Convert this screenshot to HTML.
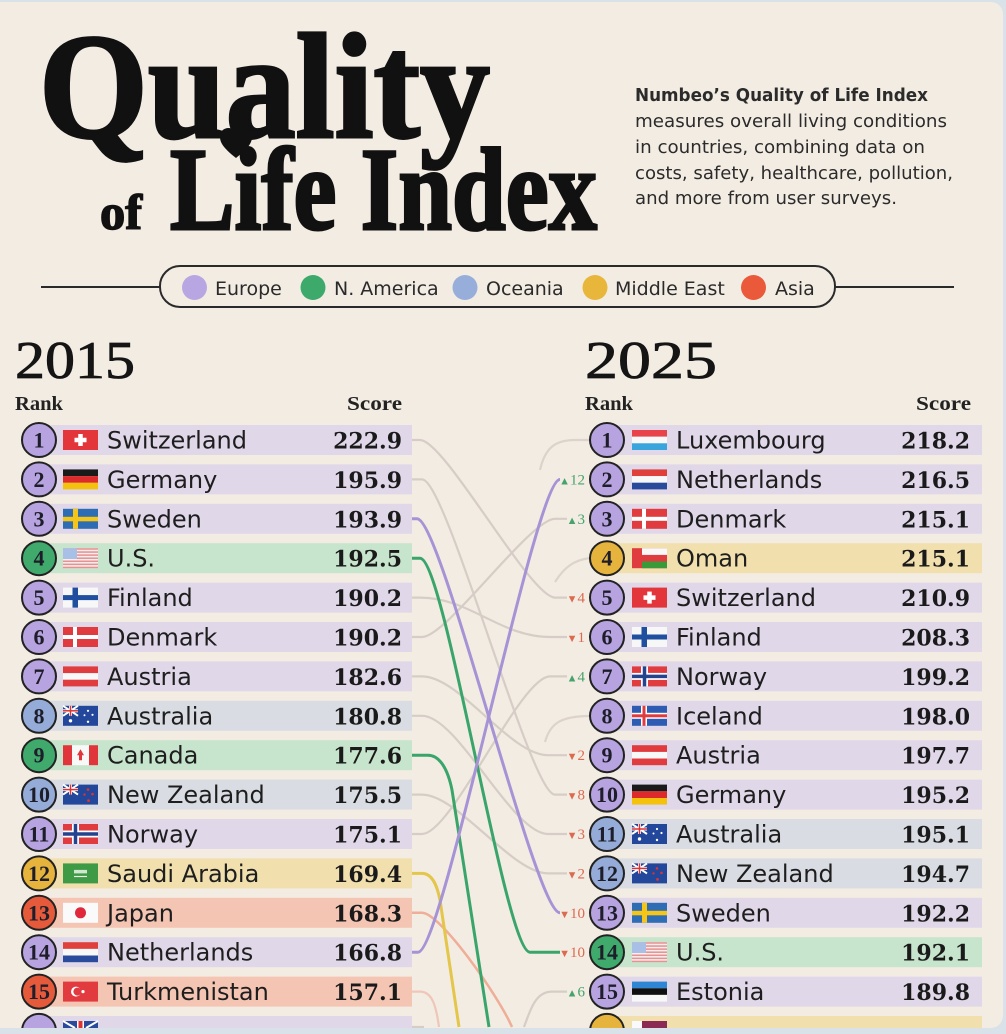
<!DOCTYPE html>
<html><head><meta charset="utf-8">
<style>
html,body{margin:0;padding:0;background:#d9e1e9;width:1006px;height:1034px;overflow:hidden;}
svg{display:block;overflow:hidden;}
.rk{font-family:"Liberation Serif",serif;font-weight:bold;font-size:22px;text-anchor:middle;fill:#1e1e2a;}
.nm{font-family:"DejaVu Sans","Liberation Sans",sans-serif;font-size:24px;fill:#1e1e1e;}
.sc{font-family:"DejaVu Serif","Liberation Serif",serif;font-weight:bold;font-size:22px;text-anchor:end;fill:#1a1a1a;}
.bE{fill:#e0d7e9}.bN{fill:#c7e4cc}.bO{fill:#d9dde3}.bM{fill:#f1dfae}.bA{fill:#f4c5b3}
.cE{fill:#b6a3df}.cN{fill:#3faa6c}.cO{fill:#95acd8}.cM{fill:#e6b43c}.cA{fill:#e65a3c}
.ci{stroke:#222;stroke-width:2}
.g{fill:none;stroke:#d6cec6;stroke-width:2.2}
.lb{font-family:"Liberation Serif","DejaVu Serif",serif;font-size:15px;text-anchor:end;}
.up{fill:#45a36b}.dn{fill:#dc6a4f}
.lg{font-family:"DejaVu Sans","Liberation Sans",sans-serif;font-size:19px;fill:#2a2a2a;}
.ds{font-family:"DejaVu Sans","Liberation Sans",sans-serif;font-size:18px;fill:#2b2b2b;}
</style></head>
<body>
<svg width="1006" height="1034" viewBox="0 0 1006 1034" xmlns="http://www.w3.org/2000/svg">
<defs>
<g id="f-ch"><rect width="35" height="20" fill="#e2363b"/><rect x="15.25" y="4" width="4.5" height="12" fill="#fff"/><rect x="11.5" y="7.75" width="12" height="4.5" fill="#fff"/></g>
<g id="f-de"><rect width="35" height="6.7" fill="#1a1a1a"/><rect y="6.7" width="35" height="6.7" fill="#dd2b2b"/><rect y="13.4" width="35" height="6.6" fill="#f4c20d"/></g>
<g id="f-se"><rect width="35" height="20" fill="#2e6db4"/><rect x="10" width="5" height="20" fill="#f5c518"/><rect y="8" width="35" height="4.5" fill="#f5c518"/></g>
<g id="f-us"><rect width="35" height="20" fill="#f6eeee"/><rect y="0" width="35" height="1.54" fill="#e69292"/><rect y="3.08" width="35" height="1.54" fill="#e69292"/><rect y="6.15" width="35" height="1.54" fill="#e69292"/><rect y="9.23" width="35" height="1.54" fill="#e69292"/><rect y="12.31" width="35" height="1.54" fill="#e69292"/><rect y="15.38" width="35" height="1.54" fill="#e69292"/><rect y="18.46" width="35" height="1.54" fill="#e69292"/><rect width="14" height="10.8" fill="#a8c0e6"/></g>
<g id="f-fi"><rect width="35" height="20" fill="#f7f7f7"/><rect x="9.5" width="5.5" height="20" fill="#1f4f9e"/><rect y="7.5" width="35" height="5" fill="#1f4f9e"/></g>
<g id="f-dk"><rect width="35" height="20" fill="#e03b3f"/><rect x="10" width="4" height="20" fill="#fff"/><rect y="8" width="35" height="4" fill="#fff"/></g>
<g id="f-at"><rect width="35" height="20" fill="#e03b3f"/><rect y="6.7" width="35" height="6.6" fill="#f8f8f8"/></g>
<g id="f-au"><rect width="35" height="20" fill="#23479a"/><path d="M0 0L15 10M15 0L0 10" stroke="#fff" stroke-width="2"/><rect x="6" width="3" height="10" fill="#fff"/><rect y="3.5" width="15" height="3" fill="#fff"/><rect x="6.75" width="1.5" height="10" fill="#d33"/><rect y="4.25" width="15" height="1.5" fill="#d33"/><circle cx="7.5" cy="15" r="1.7" fill="#fff"/><circle cx="25" cy="5" r="1.1" fill="#fff"/><circle cx="29.5" cy="9" r="1.1" fill="#fff"/><circle cx="25" cy="16" r="1.2" fill="#fff"/><circle cx="21.5" cy="9.5" r="1" fill="#fff"/></g>
<g id="f-nz"><rect width="35" height="20" fill="#23479a"/><path d="M0 0L15 10M15 0L0 10" stroke="#fff" stroke-width="2"/><rect x="6" width="3" height="10" fill="#fff"/><rect y="3.5" width="15" height="3" fill="#fff"/><rect x="6.75" width="1.5" height="10" fill="#d33"/><rect y="4.25" width="15" height="1.5" fill="#d33"/><circle cx="25" cy="5" r="1.3" fill="#d33"/><circle cx="29.5" cy="9.5" r="1.3" fill="#d33"/><circle cx="21.5" cy="10" r="1.2" fill="#d33"/><circle cx="25.5" cy="16" r="1.4" fill="#d33"/></g>
<g id="f-ca"><rect width="35" height="20" fill="#f8f8f8"/><rect width="9" height="20" fill="#e0353a"/><rect x="26" width="9" height="20" fill="#e0353a"/><path d="M17.5 4L21 10L19 10L19 15L16 15L16 10L14 10Z" fill="#e0353a"/></g>
<g id="f-no"><rect width="35" height="20" fill="#e03b3f"/><rect x="9" width="7" height="20" fill="#fff"/><rect y="6.5" width="35" height="7" fill="#fff"/><rect x="10.75" width="3.5" height="20" fill="#24438f"/><rect y="8.25" width="35" height="3.5" fill="#24438f"/></g>
<g id="f-sa"><rect width="35" height="20" fill="#3f9a45"/><rect x="11" y="6.5" width="13" height="3.5" fill="#cfe6cf"/><rect x="11" y="12.5" width="13" height="1.2" fill="#e8f3e8"/></g>
<g id="f-jp"><rect width="35" height="20" fill="#fafafa"/><circle cx="17.5" cy="10" r="5.5" fill="#e0283c"/></g>
<g id="f-nl"><rect width="35" height="6.7" fill="#e0403c"/><rect y="6.7" width="35" height="6.6" fill="#f8f8f8"/><rect y="13.3" width="35" height="6.7" fill="#2a4b9c"/></g>
<g id="f-tm"><rect width="35" height="20" fill="#e23b3f"/><circle cx="13" cy="10" r="5" fill="#fff"/><circle cx="14.4" cy="10" r="4" fill="#e23b3f"/><circle cx="20" cy="10" r="1.6" fill="#fff"/></g>
<g id="f-lu"><rect width="35" height="6.7" fill="#e8434a"/><rect y="6.7" width="35" height="6.6" fill="#f8f8f8"/><rect y="13.3" width="35" height="6.7" fill="#3aa5dd"/></g>
<g id="f-om"><rect width="35" height="20" fill="#e03b3f"/><rect x="10" width="25" height="6.7" fill="#f8f8f8"/><rect x="10" y="13.3" width="25" height="6.7" fill="#3a9a3a"/></g>
<g id="f-is"><rect width="35" height="20" fill="#2d5cb2"/><rect x="9" width="6" height="20" fill="#fff"/><rect y="7" width="35" height="6" fill="#fff"/><rect x="10.5" width="3" height="20" fill="#e03b3f"/><rect y="8.5" width="35" height="3" fill="#e03b3f"/></g>
<g id="f-ee"><rect width="35" height="6.7" fill="#2f86d4"/><rect y="6.7" width="35" height="6.6" fill="#111"/><rect y="13.3" width="35" height="6.7" fill="#f8f8f8"/></g>
</defs>

<rect width="1006" height="1034" fill="#d9e1e9"/>
<path d="M0 2 H991 A12 12 0 0 1 1003 14 V1016 A12 12 0 0 1 991 1028 H0 Z" fill="#f3ece3"/>

<!-- Title -->
<text x="39" y="137" font-family="Liberation Serif, serif" font-weight="bold" font-size="150" textLength="451" lengthAdjust="spacingAndGlyphs" fill="#111" stroke="#111" stroke-width="3">Quality</text>
<text x="100" y="229" font-family="Liberation Serif, serif" font-weight="bold" font-size="50" textLength="42" lengthAdjust="spacingAndGlyphs" fill="#111" stroke="#111" stroke-width="1.5">of</text>
<text x="170" y="229" font-family="Liberation Serif, serif" font-weight="bold" font-size="118" textLength="427" lengthAdjust="spacingAndGlyphs" fill="#111" stroke="#111" stroke-width="3">Life Index</text>
<path d="M236 158 C226 150 220 144 220 137 C220 131 224 128 228.5 128 C232 128 234.5 130 236 133 C237.5 130 240 128 243.5 128 C248 128 252 131 252 137 C252 144 246 150 236 158 Z" fill="#111"/>

<!-- Description -->
<text x="635" y="101" class="ds" font-weight="bold" fill="#151515" textLength="293" lengthAdjust="spacingAndGlyphs">Numbeo’s Quality of Life Index</text>
<text x="635" y="127" class="ds" textLength="312" lengthAdjust="spacingAndGlyphs">measures overall living conditions</text>
<text x="635" y="153" class="ds" textLength="290" lengthAdjust="spacingAndGlyphs">in countries, combining data on</text>
<text x="635" y="179" class="ds" textLength="318" lengthAdjust="spacingAndGlyphs">costs, safety, healthcare, pollution,</text>
<text x="635" y="204" class="ds" textLength="262" lengthAdjust="spacingAndGlyphs">and more from user surveys.</text>

<!-- Legend -->
<line x1="41" y1="287" x2="160" y2="287" stroke="#2a2a2a" stroke-width="2"/>
<line x1="835" y1="287" x2="954" y2="287" stroke="#2a2a2a" stroke-width="2"/>
<rect x="160" y="266" width="675" height="41" rx="20" fill="none" stroke="#2a2a2a" stroke-width="2"/>
<circle cx="194.5" cy="287.5" r="12.5" fill="#b8a6e2"/>
<text x="215" y="295" class="lg">Europe</text>
<circle cx="313" cy="287.5" r="12.5" fill="#3daa6c"/>
<text x="334" y="295" class="lg">N. America</text>
<circle cx="465" cy="287.5" r="12.5" fill="#97aedb"/>
<text x="486" y="295" class="lg">Oceania</text>
<circle cx="595" cy="287.5" r="12.5" fill="#e8b63a"/>
<text x="615" y="295" class="lg">Middle East</text>
<circle cx="753.5" cy="287.5" r="12.5" fill="#ea5a3a"/>
<text x="775" y="295" class="lg">Asia</text>

<!-- Headings -->
<text x="15" y="378" font-family="Liberation Serif, serif" font-size="53" textLength="120" lengthAdjust="spacingAndGlyphs" fill="#151515" stroke="#151515" stroke-width="0.8">2015</text>
<text x="585" y="378" font-family="Liberation Serif, serif" font-size="53" textLength="132" lengthAdjust="spacingAndGlyphs" fill="#151515" stroke="#151515" stroke-width="0.8">2025</text>
<text x="15" y="410" font-family="Liberation Serif, serif" font-weight="bold" font-size="19.5" textLength="48" lengthAdjust="spacingAndGlyphs" fill="#222">Rank</text>
<text x="347" y="410" font-family="Liberation Serif, serif" font-weight="bold" font-size="19.5" textLength="55" lengthAdjust="spacingAndGlyphs" fill="#222">Score</text>
<text x="585" y="410" font-family="Liberation Serif, serif" font-weight="bold" font-size="19.5" textLength="48" lengthAdjust="spacingAndGlyphs" fill="#222">Rank</text>
<text x="916" y="410" font-family="Liberation Serif, serif" font-weight="bold" font-size="19.5" textLength="55" lengthAdjust="spacingAndGlyphs" fill="#222">Score</text>

<!-- Connecting lines: gray -->
<path class="g" d="M412 440 H420 C445 440 530 597.6 555 597.6 H567"/>
<path class="g" d="M412 479.4 H422 C447 479.4 530 794.6 555 794.6 H567"/>
<path class="g" d="M412 597.6 H420 C470 597.6 500 637 550 637 H567"/>
<path class="g" d="M412 637 H422 C447 637 530 518.8 555 518.8 H567"/>
<path class="g" d="M412 676.4 H422 C460 676.4 510 755.2 548 755.2 H567"/>
<path class="g" d="M412 715.8 H422 C458 715.8 512 834 548 834 H567"/>
<path class="g" d="M412 794.6 H422 C458 794.6 512 873.4 548 873.4 H567"/>
<path class="g" d="M412 834 H422 C452 834 520 676.4 550 676.4 H567"/>
<path class="g" d="M524 1027 C532 1005 537 991.6 552 991.6 H567"/>
<path class="g" d="M412 1027 H424"/>
<path class="g" d="M540 470 C545 448 555 440 575 440 H590" opacity="0.8"/>
<path class="g" d="M555 582 C565 566 575 560 590 558" opacity="0.8"/>
<path class="g" d="M545 742 C550 724 560 716 590 716" opacity="0.8"/>
<path fill="none" stroke="#efc6b7" stroke-width="2.2" d="M412 991.6 H420 C432 991.6 436 1005 439 1027"/>
<!-- colored lines -->
<path fill="none" stroke="#eeae97" stroke-width="2.5" d="M412 912.8 H422 C440 912.8 498 995 512 1027"/>
<path fill="none" stroke="#e3c64a" stroke-width="3" d="M412 873.4 H422 C432 873.4 437 885 440 900 L459 1027"/>
<path fill="none" stroke="#3aa56a" stroke-width="3" d="M412 755.2 H428 C440 755.2 448 770 452 790 L489 1027"/>
<path fill="none" stroke="#3aa56a" stroke-width="3" d="M412 558.2 H420 C445 558.2 505 952.2 530 952.2 H560"/>
<path fill="none" stroke="#a693d6" stroke-width="3" d="M412 518.8 H417 C442 518.8 535 912.8 560 912.8"/>
<path fill="none" stroke="#a693d6" stroke-width="3" d="M412 952.2 H418 C443 952.2 535 479.4 560 479.4"/>

<!-- Change labels -->
<text x="585" y="484.5" class="lb up"><tspan font-size="11">▲</tspan>12</text>
<text x="585" y="523.8" class="lb up"><tspan font-size="11">▲</tspan>3</text>
<text x="585" y="602.6" class="lb dn"><tspan font-size="11">▼</tspan>4</text>
<text x="585" y="642" class="lb dn"><tspan font-size="11">▼</tspan>1</text>
<text x="585" y="681.4" class="lb up"><tspan font-size="11">▲</tspan>4</text>
<text x="585" y="760.2" class="lb dn"><tspan font-size="11">▼</tspan>2</text>
<text x="585" y="799.6" class="lb dn"><tspan font-size="11">▼</tspan>8</text>
<text x="585" y="839" class="lb dn"><tspan font-size="11">▼</tspan>3</text>
<text x="585" y="878.4" class="lb dn"><tspan font-size="11">▼</tspan>2</text>
<text x="585" y="917.8" class="lb dn"><tspan font-size="11">▼</tspan>10</text>
<text x="585" y="957.2" class="lb dn"><tspan font-size="11">▼</tspan>10</text>
<text x="585" y="996.6" class="lb up"><tspan font-size="11">▲</tspan>6</text>

<!-- LEFT rows (2015) -->
<g transform="translate(0,440)"><rect x="39" y="-15" width="373" height="30" class="bE"/><circle cx="39" r="17" class="cE ci"/><text x="39" y="7.5" class="rk">1</text><use href="#f-ch" x="63" y="-10"/><text x="107" y="8.5" class="nm">Switzerland</text><text x="402" y="8.5" class="sc">222.9</text></g>
<g transform="translate(0,479.4)"><rect x="39" y="-15" width="373" height="30" class="bE"/><circle cx="39" r="17" class="cE ci"/><text x="39" y="7.5" class="rk">2</text><use href="#f-de" x="63" y="-10"/><text x="107" y="8.5" class="nm">Germany</text><text x="402" y="8.5" class="sc">195.9</text></g>
<g transform="translate(0,518.8)"><rect x="39" y="-15" width="373" height="30" class="bE"/><circle cx="39" r="17" class="cE ci"/><text x="39" y="7.5" class="rk">3</text><use href="#f-se" x="63" y="-10"/><text x="107" y="8.5" class="nm">Sweden</text><text x="402" y="8.5" class="sc">193.9</text></g>
<g transform="translate(0,558.2)"><rect x="39" y="-15" width="373" height="30" class="bN"/><circle cx="39" r="17" class="cN ci"/><text x="39" y="7.5" class="rk">4</text><use href="#f-us" x="63" y="-10"/><text x="107" y="8.5" class="nm">U.S.</text><text x="402" y="8.5" class="sc">192.5</text></g>
<g transform="translate(0,597.6)"><rect x="39" y="-15" width="373" height="30" class="bE"/><circle cx="39" r="17" class="cE ci"/><text x="39" y="7.5" class="rk">5</text><use href="#f-fi" x="63" y="-10"/><text x="107" y="8.5" class="nm">Finland</text><text x="402" y="8.5" class="sc">190.2</text></g>
<g transform="translate(0,637)"><rect x="39" y="-15" width="373" height="30" class="bE"/><circle cx="39" r="17" class="cE ci"/><text x="39" y="7.5" class="rk">6</text><use href="#f-dk" x="63" y="-10"/><text x="107" y="8.5" class="nm">Denmark</text><text x="402" y="8.5" class="sc">190.2</text></g>
<g transform="translate(0,676.4)"><rect x="39" y="-15" width="373" height="30" class="bE"/><circle cx="39" r="17" class="cE ci"/><text x="39" y="7.5" class="rk">7</text><use href="#f-at" x="63" y="-10"/><text x="107" y="8.5" class="nm">Austria</text><text x="402" y="8.5" class="sc">182.6</text></g>
<g transform="translate(0,715.8)"><rect x="39" y="-15" width="373" height="30" class="bO"/><circle cx="39" r="17" class="cO ci"/><text x="39" y="7.5" class="rk">8</text><use href="#f-au" x="63" y="-10"/><text x="107" y="8.5" class="nm">Australia</text><text x="402" y="8.5" class="sc">180.8</text></g>
<g transform="translate(0,755.2)"><rect x="39" y="-15" width="373" height="30" class="bN"/><circle cx="39" r="17" class="cN ci"/><text x="39" y="7.5" class="rk">9</text><use href="#f-ca" x="63" y="-10"/><text x="107" y="8.5" class="nm">Canada</text><text x="402" y="8.5" class="sc">177.6</text></g>
<g transform="translate(0,794.6)"><rect x="39" y="-15" width="373" height="30" class="bO"/><circle cx="39" r="17" class="cO ci"/><text x="39" y="7.5" class="rk">10</text><use href="#f-nz" x="63" y="-10"/><text x="107" y="8.5" class="nm">New Zealand</text><text x="402" y="8.5" class="sc">175.5</text></g>
<g transform="translate(0,834)"><rect x="39" y="-15" width="373" height="30" class="bE"/><circle cx="39" r="17" class="cE ci"/><text x="39" y="7.5" class="rk">11</text><use href="#f-no" x="63" y="-10"/><text x="107" y="8.5" class="nm">Norway</text><text x="402" y="8.5" class="sc">175.1</text></g>
<g transform="translate(0,873.4)"><rect x="39" y="-15" width="373" height="30" class="bM"/><circle cx="39" r="17" class="cM ci"/><text x="39" y="7.5" class="rk">12</text><use href="#f-sa" x="63" y="-10"/><text x="107" y="8.5" class="nm">Saudi Arabia</text><text x="402" y="8.5" class="sc">169.4</text></g>
<g transform="translate(0,912.8)"><rect x="39" y="-15" width="373" height="30" class="bA"/><circle cx="39" r="17" class="cA ci"/><text x="39" y="7.5" class="rk">13</text><use href="#f-jp" x="63" y="-10"/><text x="107" y="8.5" class="nm">Japan</text><text x="402" y="8.5" class="sc">168.3</text></g>
<g transform="translate(0,952.2)"><rect x="39" y="-15" width="373" height="30" class="bE"/><circle cx="39" r="17" class="cE ci"/><text x="39" y="7.5" class="rk">14</text><use href="#f-nl" x="63" y="-10"/><text x="107" y="8.5" class="nm">Netherlands</text><text x="402" y="8.5" class="sc">166.8</text></g>
<g transform="translate(0,991.6)"><rect x="39" y="-15" width="373" height="30" class="bA"/><circle cx="39" r="17" class="cA ci"/><text x="39" y="7.5" class="rk">15</text><use href="#f-tm" x="63" y="-10"/><text x="107" y="8.5" class="nm">Turkmenistan</text><text x="402" y="8.5" class="sc">157.1</text></g>
<!-- row 16 left (partially visible) -->
<rect x="39" y="1016" width="373" height="12" class="bE"/>
<path d="M22.1 1029 A17 17 0 0 1 55.9 1029 Z" class="cE ci"/>
<rect x="63" y="1021" width="35" height="7" fill="#2a4b9c"/>
<rect x="77" y="1021" width="7" height="7" fill="#fff"/>
<rect x="78.5" y="1021" width="4" height="7" fill="#d33"/>
<path d="M63 1021 L75 1028 M98 1021 L86 1028" stroke="#fff" stroke-width="2"/>

<!-- RIGHT rows (2025) -->
<g transform="translate(568,440)"><rect x="39" y="-15" width="375" height="30" class="bE"/><circle cx="39" r="17" class="cE ci"/><text x="39" y="7.5" class="rk">1</text><use href="#f-lu" x="64" y="-10"/><text x="108" y="8.5" class="nm">Luxembourg</text><text x="402" y="8.5" class="sc">218.2</text></g>
<g transform="translate(568,479.4)"><rect x="39" y="-15" width="375" height="30" class="bE"/><circle cx="39" r="17" class="cE ci"/><text x="39" y="7.5" class="rk">2</text><use href="#f-nl" x="64" y="-10"/><text x="108" y="8.5" class="nm">Netherlands</text><text x="402" y="8.5" class="sc">216.5</text></g>
<g transform="translate(568,518.8)"><rect x="39" y="-15" width="375" height="30" class="bE"/><circle cx="39" r="17" class="cE ci"/><text x="39" y="7.5" class="rk">3</text><use href="#f-dk" x="64" y="-10"/><text x="108" y="8.5" class="nm">Denmark</text><text x="402" y="8.5" class="sc">215.1</text></g>
<g transform="translate(568,558.2)"><rect x="39" y="-15" width="375" height="30" class="bM"/><circle cx="39" r="17" class="cM ci"/><text x="39" y="7.5" class="rk">4</text><use href="#f-om" x="64" y="-10"/><text x="108" y="8.5" class="nm">Oman</text><text x="402" y="8.5" class="sc">215.1</text></g>
<g transform="translate(568,597.6)"><rect x="39" y="-15" width="375" height="30" class="bE"/><circle cx="39" r="17" class="cE ci"/><text x="39" y="7.5" class="rk">5</text><use href="#f-ch" x="64" y="-10"/><text x="108" y="8.5" class="nm">Switzerland</text><text x="402" y="8.5" class="sc">210.9</text></g>
<g transform="translate(568,637)"><rect x="39" y="-15" width="375" height="30" class="bE"/><circle cx="39" r="17" class="cE ci"/><text x="39" y="7.5" class="rk">6</text><use href="#f-fi" x="64" y="-10"/><text x="108" y="8.5" class="nm">Finland</text><text x="402" y="8.5" class="sc">208.3</text></g>
<g transform="translate(568,676.4)"><rect x="39" y="-15" width="375" height="30" class="bE"/><circle cx="39" r="17" class="cE ci"/><text x="39" y="7.5" class="rk">7</text><use href="#f-no" x="64" y="-10"/><text x="108" y="8.5" class="nm">Norway</text><text x="402" y="8.5" class="sc">199.2</text></g>
<g transform="translate(568,715.8)"><rect x="39" y="-15" width="375" height="30" class="bE"/><circle cx="39" r="17" class="cE ci"/><text x="39" y="7.5" class="rk">8</text><use href="#f-is" x="64" y="-10"/><text x="108" y="8.5" class="nm">Iceland</text><text x="402" y="8.5" class="sc">198.0</text></g>
<g transform="translate(568,755.2)"><rect x="39" y="-15" width="375" height="30" class="bE"/><circle cx="39" r="17" class="cE ci"/><text x="39" y="7.5" class="rk">9</text><use href="#f-at" x="64" y="-10"/><text x="108" y="8.5" class="nm">Austria</text><text x="402" y="8.5" class="sc">197.7</text></g>
<g transform="translate(568,794.6)"><rect x="39" y="-15" width="375" height="30" class="bE"/><circle cx="39" r="17" class="cE ci"/><text x="39" y="7.5" class="rk">10</text><use href="#f-de" x="64" y="-10"/><text x="108" y="8.5" class="nm">Germany</text><text x="402" y="8.5" class="sc">195.2</text></g>
<g transform="translate(568,834)"><rect x="39" y="-15" width="375" height="30" class="bO"/><circle cx="39" r="17" class="cO ci"/><text x="39" y="7.5" class="rk">11</text><use href="#f-au" x="64" y="-10"/><text x="108" y="8.5" class="nm">Australia</text><text x="402" y="8.5" class="sc">195.1</text></g>
<g transform="translate(568,873.4)"><rect x="39" y="-15" width="375" height="30" class="bO"/><circle cx="39" r="17" class="cO ci"/><text x="39" y="7.5" class="rk">12</text><use href="#f-nz" x="64" y="-10"/><text x="108" y="8.5" class="nm">New Zealand</text><text x="402" y="8.5" class="sc">194.7</text></g>
<g transform="translate(568,912.8)"><rect x="39" y="-15" width="375" height="30" class="bE"/><circle cx="39" r="17" class="cE ci"/><text x="39" y="7.5" class="rk">13</text><use href="#f-se" x="64" y="-10"/><text x="108" y="8.5" class="nm">Sweden</text><text x="402" y="8.5" class="sc">192.2</text></g>
<g transform="translate(568,952.2)"><rect x="39" y="-15" width="375" height="30" class="bN"/><circle cx="39" r="17" class="cN ci"/><text x="39" y="7.5" class="rk">14</text><use href="#f-us" x="64" y="-10"/><text x="108" y="8.5" class="nm">U.S.</text><text x="402" y="8.5" class="sc">192.1</text></g>
<g transform="translate(568,991.6)"><rect x="39" y="-15" width="375" height="30" class="bE"/><circle cx="39" r="17" class="cE ci"/><text x="39" y="7.5" class="rk">15</text><use href="#f-ee" x="64" y="-10"/><text x="108" y="8.5" class="nm">Estonia</text><text x="402" y="8.5" class="sc">189.8</text></g>
<!-- row 16 right (partially visible) -->
<rect x="607" y="1016" width="375" height="12" class="bM"/>
<path d="M590.1 1029 A17 17 0 0 1 623.9 1029 Z" class="cM ci"/>
<rect x="632" y="1021" width="10" height="7" fill="#fafafa"/>
<rect x="642" y="1021" width="25" height="7" fill="#8a2a55"/>

<!-- frame overlay at bottom/right -->
<path d="M0 1028 H991 A12 12 0 0 0 1003 1016 V0 H1006 V1034 H0 Z" fill="#d9e1e9"/>
<rect x="0" y="0" width="1006" height="2" fill="#d9e1e9"/>
</svg>
</body></html>
